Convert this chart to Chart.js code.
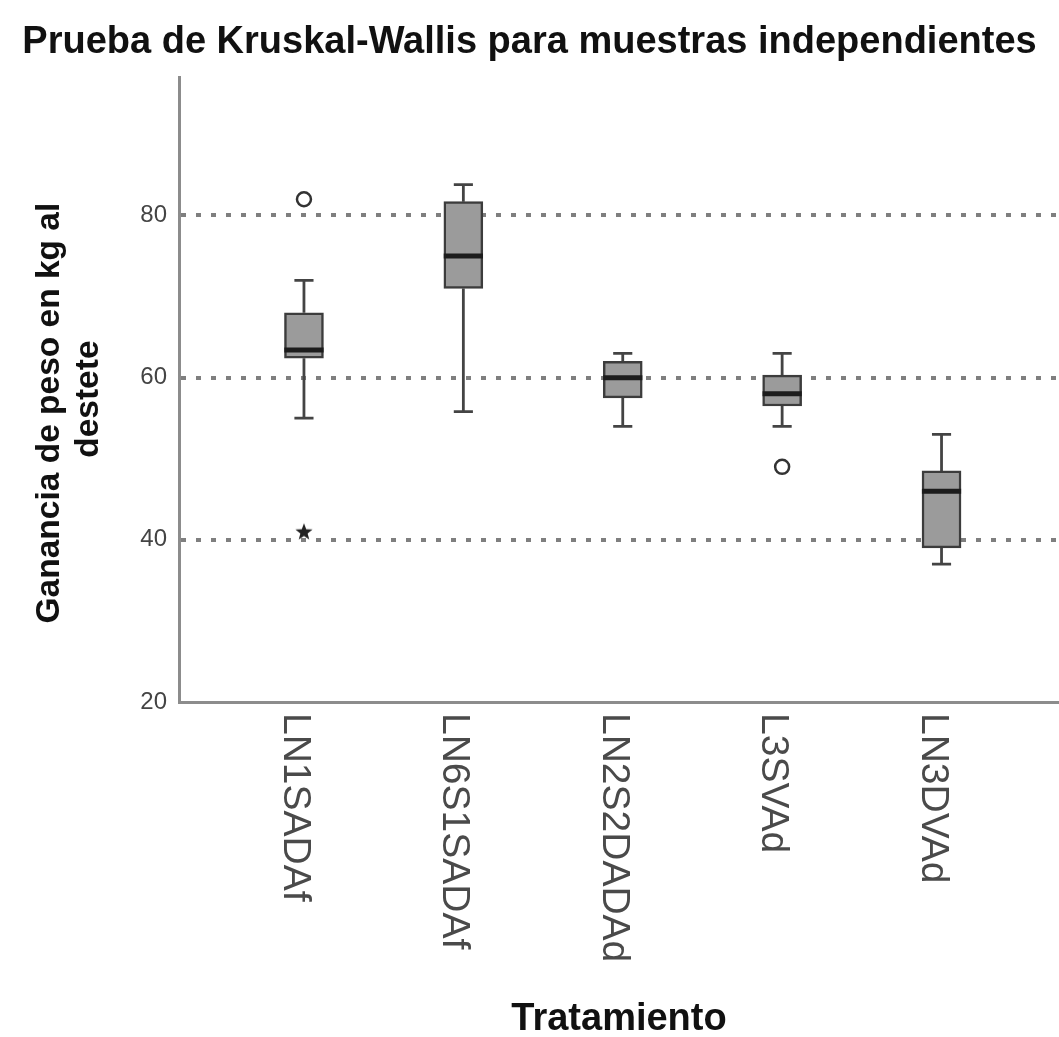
<!DOCTYPE html>
<html>
<head>
<meta charset="utf-8">
<script src="https://cdn.jsdelivr.net/npm/chart.js@4.4.1/dist/chart.umd.min.js"></script>
<style>
  html, body { margin: 0; padding: 0; background: #fff; }
  canvas { display: block; }
</style>
</head>
<body>
<canvas id="myChart" width="1059" height="1037"></canvas>
<script>
// tratamientos y resumen de cada caja
var categories = ["LN1SADAf", "LN6S1SADAf", "LN2S2DADAd", "L3SVAd", "LN3DVAd"];
var whiskerLow = [55, 55.8, 54, 54, 37];
var q1 = [62.4, 71, 57.5, 56.5, 39];
var median = [63.4, 75, 60, 58, 46];
var q3 = [68, 81.7, 62, 60.3, 48.5];
var whiskerHigh = [72, 83.8, 63, 63, 53];
// valores atipicos (o) y extremos (*)
var outlierCat = [1, 4];
var outlierVal = [82, 49];
var extremeCat = [1];
var extremeVal = [41];
var yTicks = [20, 40, 60, 80];

var CAP = 0.06;   // media anchura del bigote, en unidades del eje x
var HALF = 0.123; // media anchura de la caja

var whiskerData = [];
var capData = [];
var medianData = [];
var boxData = [];
for (var i = 0; i < categories.length; i++) {
  var x = i + 1;
  whiskerData.push({ x: x, y: whiskerLow[i] }, { x: x, y: q1[i] }, { x: x, y: null });
  whiskerData.push({ x: x, y: q3[i] }, { x: x, y: whiskerHigh[i] }, { x: x, y: null });
  capData.push({ x: x - CAP, y: whiskerLow[i] }, { x: x + CAP, y: whiskerLow[i] }, { x: x, y: null });
  capData.push({ x: x - CAP, y: whiskerHigh[i] }, { x: x + CAP, y: whiskerHigh[i] }, { x: x, y: null });
  medianData.push({ x: x - HALF, y: median[i] }, { x: x + HALF, y: median[i] }, { x: x, y: null });
  boxData.push({ x: x, y: [q1[i], q3[i]] });
}

var outlierData = outlierCat.map(function (c, k) { return { x: c, y: outlierVal[k] }; });
var extremeData = extremeCat.map(function (c, k) { return { x: c, y: extremeVal[k] }; });

// estrella rellena para los extremos
var star = document.createElement("canvas");
star.width = 20;
star.height = 20;
var sctx = star.getContext("2d");
sctx.fillStyle = "#222";
sctx.beginPath();
for (var p = 0; p < 10; p++) {
  var r = p % 2 === 0 ? 9 : 3.8;
  var a = -Math.PI / 2 + p * Math.PI / 5;
  sctx.lineTo(10 + r * Math.cos(a), 10.5 + r * Math.sin(a));
}
sctx.closePath();
sctx.fill();

// etiquetas de categoria giradas (leen de arriba hacia abajo)
var xLabels = {
  id: "xLabels",
  afterDraw: function (chart) {
    var c = chart.ctx;
    var xs = chart.scales.x;
    c.save();
    c.fillStyle = "#4a4a4a";
    c.font = "39px 'Liberation Sans', Arial, sans-serif";
    c.textAlign = "left";
    c.textBaseline = "alphabetic";
    categories.forEach(function (lab, k) {
      c.save();
      c.translate(xs.getPixelForValue(k + 1) - 20, chart.chartArea.bottom + 11);
      c.rotate(Math.PI / 2);
      c.fillText(lab, 0, 0);
      c.restore();
    });
    c.restore();
  }
};

var ctx = document.getElementById("myChart").getContext("2d");

var myChart = new Chart(ctx, {
  type: "bar",
  data: {
    datasets: [
      {
        type: "line",
        data: whiskerData,
        borderColor: "#444",
        borderWidth: 2.8,
        pointRadius: 0,
        spanGaps: false,
        order: 5,
      },
      {
        type: "line",
        data: capData,
        borderColor: "#444",
        borderWidth: 2.8,
        pointRadius: 0,
        spanGaps: false,
        order: 5,
      },
      {
        type: "bar",
        data: boxData,
        backgroundColor: "#9b9b9b",
        borderColor: "#3c3c3c",
        borderWidth: 2.5,
        borderSkipped: false,
        barThickness: 39,
        order: 4,
      },
      {
        type: "line",
        data: medianData,
        borderColor: "#1c1c1c",
        borderWidth: 5,
        pointRadius: 0,
        spanGaps: false,
        order: 3,
      },
      {
        type: "line",
        data: outlierData,
        showLine: false,
        pointStyle: "circle",
        pointRadius: 7,
        pointBorderWidth: 2.5,
        pointBorderColor: "#333",
        pointBackgroundColor: "#fff",
        order: 2,
      },
      {
        type: "line",
        data: extremeData,
        showLine: false,
        pointStyle: star,
        order: 1,
      },
    ],
  },
  plugins: [xLabels],
  options: {
    responsive: false,
    animation: false,
    layout: { autoPadding: false, padding: 0 },
    plugins: {
      legend: { display: false },
      tooltip: { enabled: false },
      title: {
        display: true,
        text: "Prueba de Kruskal-Wallis para muestras independientes",
        color: "#111",
        font: { family: "'Liberation Sans', Arial, sans-serif", size: 38, weight: "bold", lineHeight: 1.2 },
        padding: { top: 20, bottom: 12 },
      },
    },
    scales: {
      x: {
        type: "linear",
        offset: false,
        min: 0.216,
        max: 5.737,
        grid: { display: false, drawTicks: false },
        border: { display: true, color: "#8c8c8c", width: 3 },
        ticks: { display: false },
        title: {
          display: true,
          text: "Tratamiento",
          color: "#111",
          font: { family: "'Liberation Sans', Arial, sans-serif", size: 38, weight: "bold", lineHeight: 0.9 },
          padding: { top: 0, bottom: 0 },
        },
        afterFit: function (scale) {
          scale.height = 335;
        },
      },
      y: {
        min: 20,
        max: 97,
        afterBuildTicks: function (scale) {
          scale.ticks = yTicks.map(function (v) { return { value: v }; });
        },
        grid: {
          drawTicks: false,
          color: function (c) { return c.tick && c.tick.value === 20 ? "rgba(0,0,0,0)" : "#7f7f7f"; },
          lineWidth: 4,
        },
        border: { display: true, color: "#8c8c8c", width: 3, dash: [5, 10] },
        ticks: {
          color: "#444",
          padding: 12,
          font: { family: "'Liberation Sans', Arial, sans-serif", size: 24 },
        },
        title: {
          display: true,
          text: ["Ganancia de peso en kg al     ", "destete  "],
          color: "#111",
          font: { family: "'Liberation Sans', Arial, sans-serif", size: 33.5, weight: "bold", lineHeight: 1.15 },
          padding: { top: 31, bottom: 0 },
        },
        afterFit: function (scale) {
          scale.width = 179;
        },
      },
    },
  },
});
</script>
</body>
</html>
